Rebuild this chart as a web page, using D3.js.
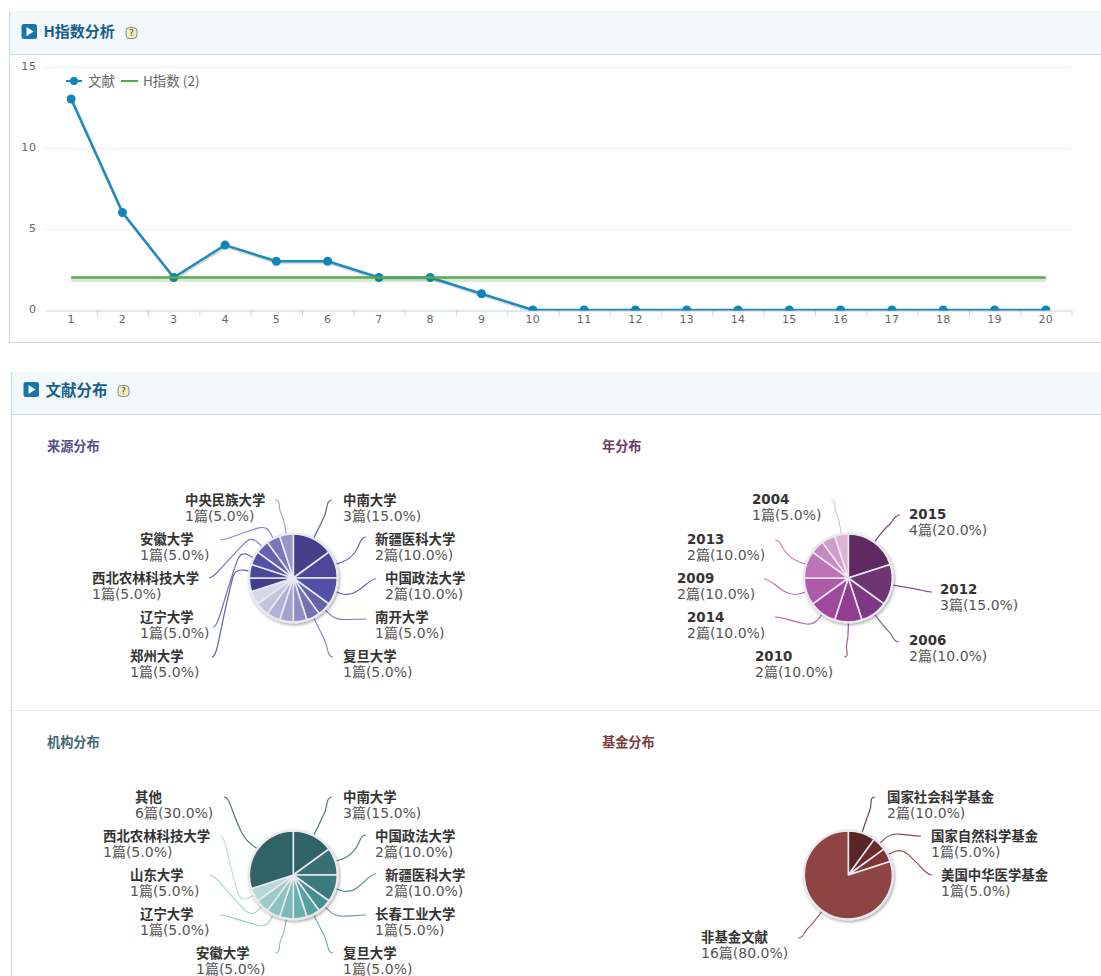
<!DOCTYPE html>
<html><head><meta charset="utf-8">
<script src="https://cdn.jsdelivr.net/npm/d3@7"></script>
<style>html,body{margin:0;padding:0;background:#fff;overflow:hidden}svg{display:block}</style>
</head><body><svg id="c" width="1101" height="976"></svg>
<script>
// ---- data ----
const ranks = d3.range(1, 21);
const citations = [13,6,2,4,3,3,2,2,1,0,0,0,0,0,0,0,0,0,0,0];
const hIndex = 2;
const yTicks = [0,5,10,15];
const legendLabels = ["文献","H指数 (2)"];

const sourceNames = ["中南大学","新疆医科大学","中国政法大学","南开大学","复旦大学","","","","","","","郑州大学","辽宁大学","西北农林科技大学","安徽大学","中央民族大学"];
const sourceValues = [3,2,2,1,1,1,1,1,1,1,1,1,1,1,1,1];
const yearNames = ["2015","2012","2006","2010","2014","2009","2013","","","2004"];
const yearValues = [4,3,2,2,2,2,2,1,1,1];
const orgNames = ["中南大学","中国政法大学","新疆医科大学","长春工业大学","复旦大学","","安徽大学","辽宁大学","山东大学","西北农林科技大学","其他"];
const orgValues = [3,2,2,1,1,1,1,1,1,1,6];
const fundNames = ["国家社会科学基金","国家自然科学基金","美国中华医学基金","非基金文献"];
const fundValues = [2,1,1,16];

// ---- styles and layout ----
const sourceColors = ["#46408c","#4b4695","#5350a8","#6562ac","#7472b6","#8f8ec4","#a3a3cf","#b1b1d6","#c3c4e0","#d6d8e8","#433e8c","#4b4797","#5451a6","#6663ac","#7a78b8","#9896c8"];
const yearColors = ["#5e2a5f","#6f3573","#7e3883","#913d92","#a0489c","#ad5ba8","#bd72b8","#c588bf","#cf9dca","#dcb5d6"];
const orgColors = ["#2f6366","#387072","#3b7b7d","#468f90","#55a2a2","#66b0ae","#79b9b6","#8dc3c0","#9ccbc8","#b3dad7","#2f6366"];
const fundColors = ["#5a2525","#6d2c2c","#7d3434","#8f4444"];

const pies = [
 {names:sourceNames,values:sourceValues,colors:sourceColors,cx:293.3,cy:578,
  labels:{"中南大学":[343,500,332,500],"新疆医科大学":[375,539,366,537],"中国政法大学":[385,578,376,579],"南开大学":[375,617,366,619],"复旦大学":[343,656,333,657],"郑州大学":[130,656,212,657],"辽宁大学":[140,617,213,627],"西北农林科技大学":[92,578,209,578],"安徽大学":[140,539,220,540],"中央民族大学":[185,500,275,500]}},
 {names:yearNames,values:yearValues,colors:yearColors,cx:848.3,cy:578,
  labels:{"2015":[909,514,900,515],"2012":[940,589,932,592],"2006":[909,640,899,642],"2010":[755,656,844,657],"2014":[687,617,775,617],"2009":[677,578,764,579],"2013":[687,539,775,540],"2004":[752,499,831,500]}},
 {names:orgNames,values:orgValues,colors:orgColors,cx:293.3,cy:875,
  labels:{"中南大学":[343,797,332,797],"中国政法大学":[375,836,366,835],"新疆医科大学":[385,875,376,874],"长春工业大学":[375,914,366,915],"复旦大学":[343,953,333,953],"安徽大学":[196,953,275,953],"辽宁大学":[140,914,220,915],"山东大学":[130,875,210,875],"西北农林科技大学":[103,836,220,836],"其他":[135,797,224,797]}},
 {names:fundNames,values:fundValues,colors:fundColors,cx:848.3,cy:875,
  labels:{"国家社会科学基金":[887,797,875,797],"国家自然科学基金":[931,836,921,836],"美国中华医学基金":[941,875,932,875],"非基金文献":[701,937,798,938]}}
];
const subtitles = [["来源分布",47,446,"#564d8e"],["年分布",602,446,"#6a3a68"],["机构分布",47,742,"#3f6a70"],["基金分布",602,742,"#7a3f3f"]];
const cjk = '"Noto Sans CJK SC","DejaVu Sans",sans-serif';
const latin = '"DejaVu Sans","Noto Sans CJK SC",sans-serif';
const panelBorder = "#c9dbe7";

const svg = d3.select("#c");
const defs = svg.append("defs");
const fs = defs.append("filter").attr("id","pieShadow").attr("x","-20%").attr("y","-20%").attr("width","140%").attr("height","140%");
fs.append("feDropShadow").attr("dx",1).attr("dy",1.5).attr("stdDeviation",1.6).attr("flood-color","#000").attr("flood-opacity",.35);

// ---- panels ----
function panel(x,y,headerH,bottom,title,titleSize,helpX,dy){
  svg.append("rect").attr("x",x).attr("y",y).attr("width",1101-x).attr("height",headerH).attr("fill","#f3f8fb");
  svg.append("line").attr("x1",x).attr("x2",1101).attr("y1",y+headerH+.5).attr("y2",y+headerH+.5).attr("stroke",panelBorder);
  svg.append("line").attr("x1",x+.5).attr("x2",x+.5).attr("y1",y).attr("y2",bottom).attr("stroke",panelBorder).attr("stroke-width",1.2);
  const iy=y+13+dy, ix=x+12.5;
  svg.append("rect").attr("x",ix).attr("y",iy).attr("width",15.5).attr("height",15).attr("rx",2.5).attr("fill","#1777ab");
  svg.append("path").attr("d",`M${ix+5},${iy+3} L${ix+12},${iy+7.5} L${ix+5},${iy+12}Z`).attr("fill","#fff");
  svg.append("text").attr("x",x+34.5).attr("y",y+21+dy).attr("dy","0.36em").attr("font-family",cjk).attr("font-weight",700).attr("font-size",titleSize).attr("fill","#155f8f").text(title);
  svg.append("rect").attr("x",helpX).attr("y",y+16.5+dy).attr("width",11).attr("height",11).attr("rx",3.5).attr("fill","#f4edb8").attr("stroke","#7c8a98");
  svg.append("text").attr("x",helpX+5.5).attr("y",y+22+dy).attr("dy","0.36em").attr("text-anchor","middle").attr("font-family",latin).attr("font-size",9).attr("fill","#444").text("?");
}
panel(9,11,43,343,"H指数分析",15,126,0);
svg.append("line").attr("x1",9).attr("x2",1101).attr("y1",342.5).attr("y2",342.5).attr("stroke",panelBorder);
panel(11,372,42,976,"文献分布",15.5,118,-3);
svg.append("line").attr("x1",12).attr("x2",1101).attr("y1",710.5).attr("y2",710.5).attr("stroke","#e8eef2");

// ---- line chart ----
const x = d3.scaleBand().domain(ranks).range([45.5,1071.5]);
const cx = d => x(d)+x.bandwidth()/2;
const y = d3.scaleLinear().domain([0,15]).range([310,66.5]);
const g = svg.append("g");
g.selectAll("line.grid").data(yTicks.filter(d=>d>0)).join("line").attr("class","grid")
  .attr("x1",45.5).attr("x2",1071.5).attr("y1",d=>Math.round(y(d))+.5).attr("y2",d=>Math.round(y(d))+.5).attr("stroke","#eeeeee");
const axisG = g.append("g").attr("transform","translate(0,310.5)");
axisG.call(d3.axisBottom(x).tickSize(0).tickPadding(5));
axisG.select(".domain").attr("stroke","#c0d0e0");
axisG.selectAll("text").attr("font-family",latin).attr("font-size",11).attr("letter-spacing","0.3px").attr("fill","#666");
axisG.selectAll("line.bt").data(ranks.slice(1).concat([21])).join("line").attr("class","bt")
  .attr("x1",d=>(d<=20?x(d):1071.5)+.5).attr("x2",d=>(d<=20?x(d):1071.5)+.5).attr("y1",0).attr("y2",5).attr("stroke","#c0d0e0");
const yAxisG = g.append("g").attr("transform","translate(36.5,1.5)");
yAxisG.call(d3.axisLeft(y).tickValues(yTicks).tickSize(0).tickPadding(0));
yAxisG.select(".domain").remove();
yAxisG.selectAll("text").attr("font-family",latin).attr("font-size",11).attr("letter-spacing","0.6px").attr("fill","#666").attr("dy","0.1em");

defs.append("clipPath").attr("id","plot").append("rect").attr("x",40).attr("y",60).attr("width",1040).attr("height",250.5);
const lineGen = d3.line().x((d,i)=>cx(ranks[i])).y(d=>y(d));
const plot = g.append("g").attr("clip-path","url(#plot)");
plot.append("path").attr("d",lineGen(citations)).attr("fill","none").attr("stroke","#000").attr("stroke-opacity",.14).attr("stroke-width",3).attr("transform","translate(1,1.5)");
plot.append("path").attr("d",lineGen(citations)).attr("fill","none").attr("stroke","#1b8cbd").attr("stroke-width",2.5).attr("stroke-linejoin","round");
plot.selectAll("circle").data(citations).join("circle").attr("cx",(d,i)=>cx(ranks[i])).attr("cy",d=>y(d)).attr("r",4.5).attr("fill","#0f85b8");
const hy = y(hIndex);
plot.append("rect").attr("x",cx(1)).attr("width",cx(20)-cx(1)).attr("y",hy+1).attr("height",3.5).attr("fill","#2f7a2a").attr("opacity",.18);
plot.append("line").attr("x1",cx(1)).attr("x2",cx(20)).attr("y1",hy).attr("y2",hy).attr("stroke","#55aa4c").attr("stroke-width",2.5);

// legend
const lg = svg.append("g");
lg.append("line").attr("x1",66).attr("x2",82).attr("y1",81).attr("y2",81).attr("stroke","#1b8cbd").attr("stroke-width",2);
lg.append("circle").attr("cx",74).attr("cy",81).attr("r",4).attr("fill","#0f85b8");
lg.append("text").attr("x",88).attr("y",81).attr("dy","0.36em").attr("font-family",cjk).attr("font-size",13.5).attr("fill","#666").text(legendLabels[0]);
lg.append("line").attr("x1",121).attr("x2",138).attr("y1",81).attr("y2",81).attr("stroke","#55aa4c").attr("stroke-width",2);
lg.append("text").attr("x",143).attr("y",81).attr("dy","0.36em").attr("font-family",cjk).attr("font-size",13.5).attr("fill","#666").text(legendLabels[1]);

// ---- subtitles ----
svg.selectAll("text.sub").data(subtitles).join("text").attr("class","sub")
  .attr("x",d=>d[1]).attr("y",d=>d[2]).attr("dy","0.36em").attr("font-family",cjk).attr("font-weight",700).attr("font-size",13.2).attr("fill",d=>d[3]).text(d=>d[0]);

// ---- pies ----
const R = 44;
const total = v => d3.sum(v);
pies.forEach(p=>{
  const arcs = d3.pie().sort(null).value(d=>d)(p.values);
  const gp = svg.append("g").attr("transform",`translate(${p.cx},${p.cy})`);
  const arc = d3.arc().innerRadius(0).outerRadius(R);
  // leaders: label -> elbow just outside the rim -> rim, rounded at the elbow
  arcs.forEach((a,i)=>{
    const l = p.labels[p.names[i]];
    if(!p.names[i]||!l) return;
    const m=(a.startAngle+a.endAngle)/2, sx=Math.sin(m), sy=-Math.cos(m);
    const ax=l[2]-p.cx, ay=l[3]-p.cy;
    const ex=sx*(R+1), ey=sy*(R+1);
    const kx=sx*(R+15), ky=sy*(R+15);
    const side=ax>kx?-1:1;
    const dA=Math.hypot(ax-kx,ay-ky)||1, dE=Math.hypot(ex-kx,ey-ky)||1;
    const r1=Math.min(9,dA*.4), r2=Math.min(9,dE*.7);
    const path=d3.path();
    path.moveTo(ax,ay);
    path.bezierCurveTo(ax+side*6,ay,ax+(kx-ax)*.35,ay+(ky-ay)*.35,kx+(ax-kx)/dA*r1,ky+(ay-ky)/dA*r1);
    path.quadraticCurveTo(kx,ky,kx+(ex-kx)/dE*r2,ky+(ey-ky)/dE*r2);
    path.lineTo(ex,ey);
    gp.append("path").attr("d",path.toString()).attr("fill","none").attr("stroke",p.colors[i]).attr("stroke-opacity",.85).attr("stroke-width",1.2);
  });
  gp.append("circle").attr("r",R+1.5).attr("fill","#e8e6ee").attr("filter","url(#pieShadow)");
  gp.selectAll("path.s").data(arcs).join("path").attr("class","s").attr("d",arc)
    .attr("fill",(d,i)=>p.colors[i]).attr("stroke","#ece8f0").attr("stroke-width",1.6).attr("stroke-linejoin","round");
  // labels
  arcs.forEach((a,i)=>{
    const l = p.labels[p.names[i]];
    if(!p.names[i]||!l) return;
    const pct = (a.value/total(p.values)*100).toFixed(1);
    svg.append("text").attr("x",l[0]).attr("y",l[1]).attr("dy","0.36em").attr("font-family",latin).attr("font-weight",700).attr("font-size",13.4).attr("fill","#333").text(p.names[i]);
    svg.append("text").attr("x",l[0]).attr("y",l[1]+16).attr("dy","0.36em").attr("font-family",latin).attr("font-size",14).attr("fill","#555").text(`${a.value}篇(${pct}%)`);
  });
});
</script></body></html>
